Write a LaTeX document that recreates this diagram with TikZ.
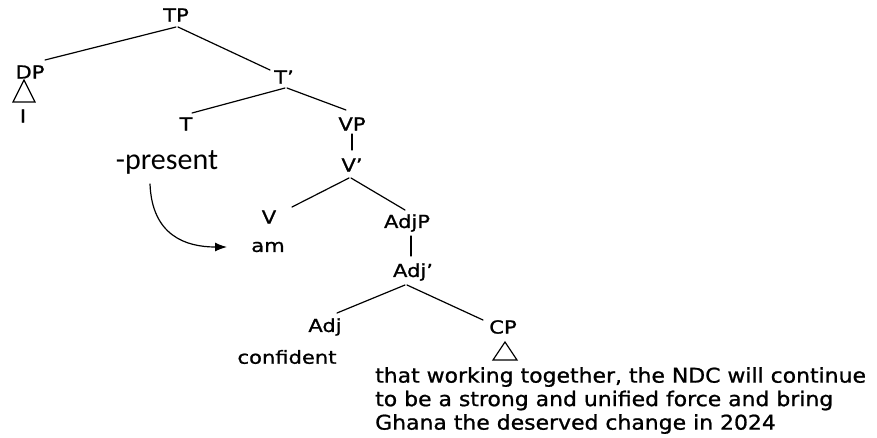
\documentclass[tikz,border=0pt]{standalone}
\usepackage{fontspec}
\setmainfont{DejaVu Sans}
\newfontfamily\lblfont{DejaVu Sans}[FakeStretch=1.17, FakeBold=1]
\newfontfamily\clausefont{DejaVu Sans}[FakeStretch=1.08, FakeBold=1]
\newfontfamily\calib{Carlito}
\usetikzlibrary{arrows.meta,calc}
\begin{document}
\begin{tikzpicture}[x=1pt,y=-1pt,
  lbl/.style={font=\lblfont\fontsize{18}{18}\selectfont, inner sep=1.5pt},
  pres/.style={font=\calib\fontsize{30}{30}\selectfont, inner sep=1.5pt},
  clause/.style={font=\clausefont\fontsize{20.3}{23.5}\selectfont, align=left, inner sep=0pt, anchor=north west},
  edge/.style={line width=1.2pt, line cap=round},
  roof/.style={line width=1.2pt, line join=miter}]
\useasboundingbox (0,0) rectangle (877,437);

% tree labels
\node[lbl] (TP) at (176,15) {TP};
\node[lbl] (DP) at (30,72) {DP};
\node[lbl] (I) at (23,116) {I};
\node[lbl] (Tbar) at (284,77) {T’};
\node[lbl] (T) at (186,124) {T};
\node[lbl] (VP) at (352,124) {VP};
\node[pres] (pres) at (167,162) {-present};
\node[lbl] (Vbar) at (352,165) {V’};
\node[lbl] (V) at (269,217) {V};
\node[lbl] (am) at (268,247) {am};
\node[lbl] (AdjP) at (407,223) {AdjP};
\node[lbl] (Adjbar) at (413,272) {Adj’};
\node[lbl] (Adj) at (325,327) {Adj};
\node[lbl] (CP) at (503,327) {CP};
\node[lbl] (conf) at (287,357) {confident};
\node[clause] (clause) at (375,367) {that working together, the NDC will continue\\to be a strong and unified force and bring\\Ghana the deserved change in 2024};

% branches
\draw[edge] ($(TP)+(0,12)$) -- ($(DP)+(15,-12)$);
\draw[edge] ($(TP)+(2,12)$) -- ($(Tbar)+(-14,-7)$);
\draw[edge] ($(Tbar)+(1,11)$) -- ($(T)+(6,-11)$);
\draw[edge] ($(Tbar)+(3,11)$) -- ($(VP)+(-6,-14)$);
\draw[edge] ($(VP)+(0,10)$) -- ($(Vbar)+(0,-15)$);
\draw[edge] ($(Vbar)+(-3,13)$) -- ($(V)+(23,-10)$);
\draw[edge] ($(Vbar)+(-1,13)$) -- ($(AdjP)+(-2,-13)$);
\draw[edge] ($(AdjP)+(4,13)$) -- ($(Adjbar)+(-2,-16)$);
\draw[edge] ($(Adjbar)+(-8,13)$) -- ($(Adj)+(12,-14)$);
\draw[edge] ($(Adjbar)+(-6,13)$) -- ($(CP)+(-20,-7)$);

% roofs over unanalysed constituents
\draw[roof] ($(DP)+(-6,8)$) -- ++(-11,22) -- ++(22,0) -- cycle;
\draw[roof] ($(CP)+(2,15)$) -- ++(-12,18) -- ++(24,0) -- cycle;

% movement of tense onto the verb
\draw[edge, -{Latex[length=12pt,width=9pt]}] ($(pres)+(-17,22)$)
  .. controls (152,235) and (185,247) .. ($(am)+(-41,0)$);
\end{tikzpicture}
\end{document}
